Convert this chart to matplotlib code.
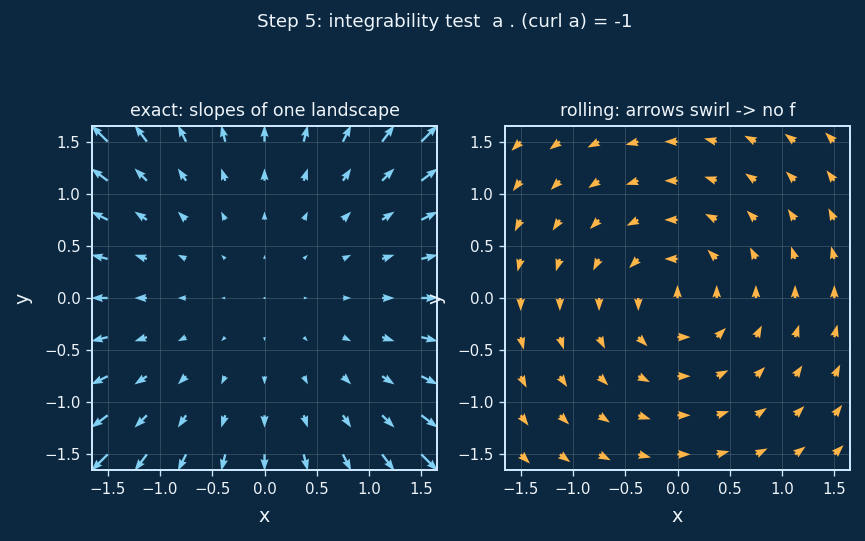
import matplotlib.pyplot as plt
import numpy as np

# grid points (same for both panels)
grid_vals = [-1.5, -1.125, -0.75, -0.375, 0.0, 0.375, 0.75, 1.125, 1.5]

# left panel: exact field, rows go from y=-1.5 (bottom) to y=1.5 (top)
u_exact = [
    [-1.5, -1.125, -0.75, -0.375, 0.0, 0.375, 0.75, 1.125, 1.5],
    [-1.5, -1.125, -0.75, -0.375, 0.0, 0.375, 0.75, 1.125, 1.5],
    [-1.5, -1.125, -0.75, -0.375, 0.0, 0.375, 0.75, 1.125, 1.5],
    [-1.5, -1.125, -0.75, -0.375, 0.0, 0.375, 0.75, 1.125, 1.5],
    [-1.5, -1.125, -0.75, -0.375, 0.0, 0.375, 0.75, 1.125, 1.5],
    [-1.5, -1.125, -0.75, -0.375, 0.0, 0.375, 0.75, 1.125, 1.5],
    [-1.5, -1.125, -0.75, -0.375, 0.0, 0.375, 0.75, 1.125, 1.5],
    [-1.5, -1.125, -0.75, -0.375, 0.0, 0.375, 0.75, 1.125, 1.5],
    [-1.5, -1.125, -0.75, -0.375, 0.0, 0.375, 0.75, 1.125, 1.5],
]
v_exact = [
    [-1.5, -1.5, -1.5, -1.5, -1.5, -1.5, -1.5, -1.5, -1.5],
    [-1.125, -1.125, -1.125, -1.125, -1.125, -1.125, -1.125, -1.125, -1.125],
    [-0.75, -0.75, -0.75, -0.75, -0.75, -0.75, -0.75, -0.75, -0.75],
    [-0.375, -0.375, -0.375, -0.375, -0.375, -0.375, -0.375, -0.375, -0.375],
    [0.0, 0.0, 0.0, 0.0, 0.0, 0.0, 0.0, 0.0, 0.0],
    [0.375, 0.375, 0.375, 0.375, 0.375, 0.375, 0.375, 0.375, 0.375],
    [0.75, 0.75, 0.75, 0.75, 0.75, 0.75, 0.75, 0.75, 0.75],
    [1.125, 1.125, 1.125, 1.125, 1.125, 1.125, 1.125, 1.125, 1.125],
    [1.5, 1.5, 1.5, 1.5, 1.5, 1.5, 1.5, 1.5, 1.5],
]

# right panel: unit arrows, direction in degrees, rows from y=-1.5 to y=1.5
angle_rolling = [
    [315, 323, 333, 346, 0, 14, 27, 37, 45],
    [307, 315, 326, 342, 0, 18, 34, 45, 53],
    [297, 304, 315, 333, 0, 27, 45, 56, 63],
    [284, 288, 297, 315, 0, 45, 63, 72, 76],
    [270, 270, 270, 270, 90, 90, 90, 90, 90],
    [256, 252, 243, 225, 180, 135, 117, 108, 104],
    [243, 236, 225, 207, 180, 153, 135, 124, 117],
    [233, 225, 214, 198, 180, 162, 146, 135, 127],
    [225, 217, 207, 194, 180, 166, 153, 143, 135],
]

bg = '#0b2840'
edge = '#cde6fb'
txt = '#eef4fa'

fig = plt.figure(figsize=(865 / 120, 541 / 120), dpi=120, facecolor=bg)

X, Y = np.meshgrid(grid_vals, grid_vals)
ang = np.radians(np.array(angle_rolling, dtype=float))

ax1 = fig.add_axes([92 / 865, 71 / 541, 345 / 865, 344 / 541])
ax2 = fig.add_axes([505 / 865, 71 / 541, 345 / 865, 344 / 541])

ax1.quiver(X, Y, np.array(u_exact), np.array(v_exact), color='#82cff4',
           angles='xy', scale_units='xy', scale=9.5, width=0.0068,
           headwidth=3.5)
ax2.quiver(X, Y, np.cos(ang), np.sin(ang), color='#ffb547',
           angles='xy', scale_units='xy', scale=8.0, width=0.0072,
           headwidth=3.5)

ax1.set_title('exact: slopes of one landscape', color=txt, fontsize=10.4)
ax2.set_title('rolling: arrows swirl -> no f', color=txt, fontsize=10.4)

for ax in (ax1, ax2):
    ax.set_facecolor(bg)
    ax.set_xlim(-1.65, 1.65)
    ax.set_ylim(-1.65, 1.65)
    ax.set_xticks([-1.5, -1.0, -0.5, 0.0, 0.5, 1.0, 1.5])
    ax.set_yticks([-1.5, -1.0, -0.5, 0.0, 0.5, 1.0, 1.5])
    ax.grid(True, color='white', alpha=0.15, linewidth=0.6)
    ax.set_axisbelow(True)
    ax.tick_params(colors=edge, labelcolor=txt, labelsize=9)
    for s in ax.spines.values():
        s.set_color(edge)
        s.set_linewidth(1.2)
    ax.set_xlabel('x', color=txt, fontsize=11.5, labelpad=6)
    ax.set_ylabel('y', color=txt, fontsize=11.5, labelpad=7)

fig.suptitle('Step 5: integrability test  a . (curl a) = -1', color=txt,
             fontsize=11, x=445 / 865, y=1 - 22 / 541, va='center')

fig.savefig('out.png', dpi=120, facecolor=bg)
